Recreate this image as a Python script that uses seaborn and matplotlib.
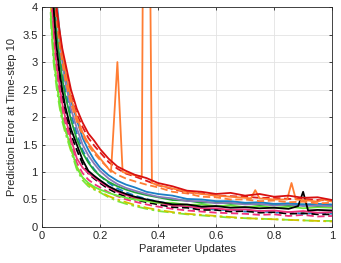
import matplotlib
matplotlib.use("Agg")
import matplotlib.pyplot as plt
import seaborn as sns
import pandas as pd
from matplotlib.ticker import FuncFormatter

sns.set_style("white")
plt.rcParams["font.family"] = ["Liberation Sans", "DejaVu Sans"]

X = [0.03, 0.04, 0.05, 0.06, 0.07, 0.08, 0.10, 0.12, 0.14, 0.16, 0.18, 0.20, 0.23, 0.26, 0.29,
     0.32, 0.36, 0.40, 0.45, 0.50, 0.55, 0.60, 0.65, 0.70, 0.75, 0.80, 0.85, 0.90, 0.95, 1.00]

red_solid = [6.0, 4.9, 4.0, 3.6, 3.25, 3.0, 2.5, 2.15, 1.9, 1.7, 1.57, 1.42, 1.24, 1.1, 1.02,
             0.95, 0.89, 0.8, 0.74, 0.66, 0.64, 0.6, 0.62, 0.57, 0.6, 0.55, 0.57, 0.53, 0.54, 0.49]
red_dash = [5.8, 4.7, 3.9, 3.5, 3.15, 2.9, 2.4, 2.05, 1.82, 1.62, 1.48, 1.36, 1.18, 1.06, 0.97,
            0.92, 0.84, 0.76, 0.69, 0.63, 0.61, 0.57, 0.56, 0.55, 0.53, 0.53, 0.51, 0.51, 0.49, 0.48]
orange_dash = [5.7, 4.6, 3.8, 3.35, 3.0, 2.7, 2.25, 1.92, 1.68, 1.48, 1.34, 1.22, 1.06, 0.95, 0.88,
               0.83, 0.77, 0.72, 0.64, 0.61, 0.55, 0.54, 0.5, 0.5, 0.47, 0.48, 0.45, 0.46, 0.43, 0.44]
blue_solid = [6.5, 5.2, 4.15, 3.6, 3.15, 2.8, 2.3, 1.95, 1.62, 1.4, 1.22, 1.08, 0.94, 0.84, 0.77,
              0.72, 0.64, 0.6, 0.57, 0.51, 0.5, 0.47, 0.47, 0.44, 0.45, 0.42, 0.43, 0.41, 0.42, 0.41]
blue_dash = [6.0, 4.8, 3.9, 3.3, 2.85, 2.5, 2.05, 1.7, 1.4, 1.2, 1.05, 0.93, 0.8, 0.7, 0.63,
             0.57, 0.51, 0.46, 0.42, 0.36, 0.35, 0.31, 0.31, 0.28, 0.29, 0.26, 0.27, 0.24, 0.26, 0.24]
black_dash = [5.0, 3.85, 3.15, 2.7, 2.35, 2.08, 1.68, 1.4, 1.15, 0.97, 0.88, 0.8, 0.69, 0.61, 0.55,
              0.5, 0.45, 0.41, 0.36, 0.35, 0.31, 0.31, 0.28, 0.29, 0.26, 0.27, 0.24, 0.25, 0.23, 0.23]
purple_solid = [6.2, 5.0, 4.0, 3.45, 3.0, 2.65, 2.15, 1.8, 1.5, 1.3, 1.15, 1.02, 0.88, 0.78, 0.71,
                0.66, 0.6, 0.55, 0.52, 0.47, 0.47, 0.43, 0.44, 0.41, 0.42, 0.39, 0.41, 0.38, 0.39, 0.38]
green_solid = [5.6, 4.4, 3.6, 3.1, 2.7, 2.4, 1.95, 1.6, 1.35, 1.17, 1.03, 0.93, 0.82, 0.74, 0.68,
               0.63, 0.58, 0.54, 0.49, 0.48, 0.44, 0.45, 0.42, 0.43, 0.4, 0.42, 0.39, 0.41, 0.38, 0.39]
lgreen_solid = [3.9, 3.1, 2.65, 2.3, 1.98, 1.78, 1.45, 1.08, 0.9, 0.8, 0.73, 0.68, 0.62, 0.57, 0.53,
                0.5, 0.47, 0.44, 0.44, 0.4, 0.41, 0.38, 0.39, 0.36, 0.38, 0.35, 0.37, 0.34, 0.36, 0.35]
lgreen_dashdot = [3.8, 3.0, 2.55, 2.2, 1.92, 1.72, 1.38, 1.05, 0.85, 0.74, 0.68, 0.63, 0.54, 0.47, 0.42,
                  0.38, 0.33, 0.29, 0.26, 0.23, 0.21, 0.19, 0.17, 0.16, 0.15, 0.14, 0.13, 0.12, 0.11, 0.11]
yellow_dashdot = [4.1, 3.2, 2.7, 2.3, 2.0, 1.78, 1.42, 1.1, 0.9, 0.78, 0.7, 0.64, 0.56, 0.5, 0.45,
                  0.4, 0.35, 0.31, 0.27, 0.24, 0.22, 0.2, 0.18, 0.16, 0.15, 0.14, 0.13, 0.12, 0.11, 0.1]
pink_solid = [4.6, 3.6, 3.0, 2.6, 2.25, 2.0, 1.6, 1.25, 1.08, 0.98, 0.9, 0.82, 0.72, 0.64, 0.58,
              0.53, 0.48, 0.44, 0.39, 0.38, 0.34, 0.34, 0.31, 0.32, 0.29, 0.3, 0.27, 0.29, 0.26, 0.27]
pink_dash = [4.4, 3.45, 2.85, 2.45, 2.12, 1.88, 1.5, 1.17, 0.98, 0.86, 0.78, 0.72, 0.63, 0.56, 0.5,
             0.46, 0.41, 0.37, 0.33, 0.3, 0.28, 0.26, 0.25, 0.24, 0.22, 0.23, 0.2, 0.22, 0.19, 0.2]

orange_x = [0.03, 0.04, 0.05, 0.06, 0.07, 0.08, 0.10, 0.12, 0.14, 0.16, 0.18, 0.20, 0.22, 0.238, 0.26,
            0.278, 0.30, 0.32, 0.344, 0.352, 0.366, 0.379, 0.40, 0.45, 0.50, 0.55, 0.60, 0.65, 0.70,
            0.72, 0.735, 0.75, 0.80, 0.845, 0.86, 0.875, 0.92, 0.95, 0.97, 1.0]
orange_solid = [5.9, 4.8, 4.0, 3.55, 3.15, 2.85, 2.35, 2.0, 1.72, 1.52, 1.38, 1.25, 1.12, 1.0, 3.0,
                1.0, 0.97, 0.94, 0.91, 9.0, 9.0, 0.8, 0.76, 0.7, 0.64, 0.6, 0.57, 0.55, 0.53,
                0.52, 0.67, 0.52, 0.5, 0.5, 0.8, 0.5, 0.48, 0.46, 0.5, 0.46]

black_x = [0.03, 0.04, 0.05, 0.06, 0.07, 0.08, 0.10, 0.12, 0.14, 0.16, 0.18, 0.20, 0.23, 0.26, 0.29,
           0.32, 0.36, 0.40, 0.45, 0.50, 0.55, 0.60, 0.65, 0.70, 0.75, 0.80, 0.85, 0.883, 0.90,
           0.917, 0.95, 1.00]
black_solid = [5.2, 4.0, 3.3, 2.85, 2.5, 2.2, 1.78, 1.5, 1.22, 1.02, 0.93, 0.85, 0.74, 0.66, 0.6,
               0.55, 0.5, 0.46, 0.41, 0.41, 0.37, 0.38, 0.35, 0.36, 0.34, 0.35, 0.33, 0.38, 0.64,
               0.3, 0.31, 0.3]

series = [
    (X, lgreen_dashdot, "#7CE83C", (0, (6, 2, 1.5, 2))),
    (X, yellow_dashdot, "#CFC400", (0, (6, 2, 1.5, 2))),
    (X, pink_dash, "#F0307A", (0, (4, 2))),
    (X, blue_dash, "#1B7FC4", (0, (4, 2))),
    (X, black_dash, "#000000", (0, (4, 2))),
    (X, pink_solid, "#F0307A", "-"),
    (X, lgreen_solid, "#6BE83A", "-"),
    (X, green_solid, "#1FA53A", "-"),
    (X, purple_solid, "#8A78B8", "-"),
    (X, blue_solid, "#1B7FC4", "-"),
    (black_x, black_solid, "#000000", "-"),
    (X, orange_dash, "#FF7D33", (0, (4, 2))),
    (X, red_dash, "#E01B1B", (0, (4, 2))),
    (orange_x, orange_solid, "#FF7D33", "-"),
    (X, red_solid, "#D81010", "-"),
]

fig = plt.figure(figsize=(3.41, 2.63), dpi=100)
ax = fig.add_axes([0.123, 0.137, 0.851, 0.836])

for xs, ys, col, ls in series:
    df = pd.DataFrame({"x": xs, "y": ys})
    sns.lineplot(data=df, x="x", y="y", ax=ax, color=col, linestyle=ls,
                 linewidth=1.3, estimator=None, sort=False)

ax.set_xlim(0, 1)
ax.set_ylim(0, 4)
ax.set_xticks([0, 0.2, 0.4, 0.6, 0.8, 1.0])
ax.set_yticks([0, 0.5, 1, 1.5, 2, 2.5, 3, 3.5, 4])
fmt = FuncFormatter(lambda v, p: "%g" % v)
ax.xaxis.set_major_formatter(fmt)
ax.yaxis.set_major_formatter(fmt)
ax.grid(True, color="#E3E3E3", linewidth=0.6)
ax.set_axisbelow(True)
for s in ax.spines.values():
    s.set_color("#262626")
    s.set_linewidth(0.6)
ax.tick_params(direction="in", length=2.5, width=0.6, color="#262626",
               labelsize=8, labelcolor="#262626", top=True, right=True,
               left=True, bottom=True, pad=3)
ax.set_xlabel("Parameter Updates", fontsize=8, color="#262626", labelpad=2)
ax.set_ylabel("Prediction Error at Time-step 10", fontsize=8, color="#262626", labelpad=4)
fig.savefig("out.png", dpi=100)
